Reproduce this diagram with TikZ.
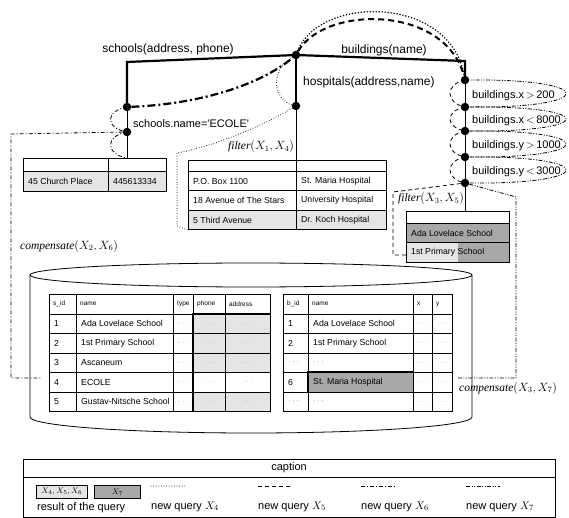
\documentclass[tikz,border=0pt]{standalone}
\usepackage{fontspec}
\setmainfont{Liberation Sans}
\newfontfamily\timesit{Liberation Serif}
\usetikzlibrary{positioning}
\definecolor{lightcell}{gray}{0.9}
\definecolor{darkcell}{gray}{0.66}
\newcommand{\gdots}{\textcolor{gray}{$\cdots$}}
\newcommand{\opname}[1]{{\timesit\itshape #1}}
\begin{document}
\begin{tikzpicture}
[x=1pt, y=-1pt,
 dot/.style={circle, fill=black, inner sep=0pt, minimum size=8.5pt},
 treeedge/.style={line width=2.2pt},
 thinline/.style={line width=0.8pt},
 lbl/.style={font=\fontsize{12}{14}\selectfont, inner sep=1pt},
 sel/.style={font=\fontsize{11}{13}\selectfont, inner sep=1pt, anchor=west},
 op/.style={font=\fontsize{11.5}{13}\selectfont, inner sep=1pt},
 capt/.style={font=\fontsize{11}{13}\selectfont, inner sep=1pt},
 cell/.style={draw, anchor=north west, inner sep=0pt, line width=0.7pt,
   font=\fontsize{7}{8}\selectfont},
 txt/.style={anchor=west, inner xsep=5pt, font=\fontsize{8.7}{10}\selectfont},
 hd/.style={anchor=west, inner xsep=4pt, font=\fontsize{6.5}{7}\selectfont},
 qfour/.style={line width=1pt, line cap=round, dash pattern=on 0pt off 2.6pt},
 qfive/.style={line width=0.8pt, dash pattern=on 4pt off 3pt},
 qsix/.style={line width=0.8pt, dash pattern=on 4pt off 2pt on 1pt off 2pt},
 qseven/.style={line width=0.8pt,
   dash pattern=on 4pt off 1.5pt on 1pt off 1.5pt on 1pt off 1.5pt}]
\useasboundingbox (0,0) rectangle (569,518);

% results of the query
\node[cell, minimum width=85, minimum height=13] (sresa) at (23,158) {};
\node[cell, minimum width=58, minimum height=13] (sresb) at (108,158) {};
\node[cell, fill=lightcell, minimum width=85, minimum height=20] (sres1) at (23,171) {};
\node[txt] at (sres1.west) {45 Church Place};
\node[cell, fill=lightcell, minimum width=58, minimum height=20] (sres2) at (108,171) {};
\node[txt] at (sres2.west) {445613334};

\node[cell, minimum width=108, minimum height=11] (hresa) at (188,160) {};
\node[cell, minimum width=90, minimum height=11] (hresb) at (296,160) {};
\foreach \i/\a/\b/\f in {0/P.O. Box 1100/St. Maria Hospital/white,
    1/18 Avenue of The Stars/University Hospital/white,
    2/5 Third Avenue/Dr. Koch Hospital/lightcell} {
  \node[cell, fill=\f, minimum width=108, minimum height=19.5] (ha\i) at (188,171+19.5*\i) {};
  \node[txt] at (ha\i.west) {\a};
  \node[cell, fill=\f, minimum width=90, minimum height=19.5] (hb\i) at (296,171+19.5*\i) {};
  \node[txt] at (hb\i.west) {\b};
}

\node[cell, minimum width=103, minimum height=12] (bresa) at (406,211) {};
\node[cell, fill=darkcell, minimum width=103, minimum height=19.5] (bres1) at (406,223) {};
\node[txt] at (bres1.west) {Ada Lovelace School};
\node[cell, fill=darkcell, minimum width=103, minimum height=19.5,
  path picture={\fill[lightcell] (path picture bounding box.north west)
    rectangle ([xshift=52pt]path picture bounding box.south west);}] (bres2) at (406,242.5) {};
\node[txt] at (bres2.west) {1st Primary School};

% database
\draw[line width=0.8pt] (251,275) ellipse[x radius=221, y radius=12];
\draw[line width=0.8pt] (30,275) -- (30,417) arc[start angle=180, end angle=0, x radius=221, y radius=16] -- (472,275);

\foreach \x/\w/\t [count=\k] in {49/27/s\_id, 76/97/name, 173/20/type, 193/32/phone, 225/45/address} {
  \node[cell, minimum width=\w, minimum height=19.5] (sh\k) at (\x,294) {};
  \node[hd] at (sh\k.west) {\t};
}
\foreach \i/\id/\nm/\f in {1/1/Ada Lovelace School/lightcell, 2/2/1st Primary School/lightcell,
    3/3/Ascaneum/lightcell, 4/4/ECOLE/white, 5/5/Gustav-Nitsche School/lightcell} {
  \node[cell, minimum width=27, minimum height=19.5] (sid\i) at (49,294+19.5*\i) {};
  \node[txt] at (sid\i.west) {\id};
  \node[cell, minimum width=97, minimum height=19.5] (snm\i) at (76,294+19.5*\i) {};
  \node[txt] at (snm\i.west) {\nm};
  \node[cell, minimum width=20, minimum height=19.5] (sty\i) at (173,294+19.5*\i) {\gdots};
  \node[cell, fill=\f, minimum width=32, minimum height=19.5] (sph\i) at (193,294+19.5*\i) {\gdots};
  \node[cell, fill=\f, minimum width=45, minimum height=19.5] (sad\i) at (225,294+19.5*\i) {\gdots};
}
\draw[line width=1.4pt] (sph1.north west) rectangle (sad5.south east);
\draw[line width=1.4pt] (sph1.north east) -- (sph5.south east);

\foreach \x/\w/\t [count=\k] in {283/25/b\_id, 308/105/name, 413/19/x, 432/20/y} {
  \node[cell, minimum width=\w, minimum height=19.5] (bh\k) at (\x,294) {};
  \node[hd] at (bh\k.west) {\t};
}
\foreach \i/\id/\nm/\f in {1/1/Ada Lovelace School/white, 2/2/1st Primary School/white,
    3/\gdots/\gdots/white, 4/6/St. Maria Hospital/darkcell, 5/\gdots/\gdots/white} {
  \node[cell, minimum width=25, minimum height=19.5] (bid\i) at (283,294+19.5*\i) {};
  \node[txt] at (bid\i.west) {\id};
  \node[cell, fill=\f, minimum width=105, minimum height=19.5] (bnm\i) at (308,294+19.5*\i) {};
  \node[txt] at (bnm\i.west) {\nm};
  \node[cell, minimum width=19, minimum height=19.5] (bx\i) at (413,294+19.5*\i) {\gdots};
  \node[cell, minimum width=20, minimum height=19.5] (by\i) at (432,294+19.5*\i) {\gdots};
}
\draw[line width=1.4pt] (bnm4.north west) rectangle (bnm4.south east);

% query tree
\node[dot] (root) at (296,55) {};
\node[dot] (s1) at (127,107) {};
\node[dot] (s2) at (127,132) {};
\node[dot] (h1) at (296,106) {};
\foreach \n/\y in {1/80,2/107,3/131,4/157,5/183}
  \node[dot] (b\n) at (465,\y) {};
\coordinate (sc) at (127,62);
\coordinate (bc) at (465,61);

\draw[treeedge] (root.center) -- (sc) -- (s1.center);
\draw[treeedge] (root.center) -- (bc) -- (b1.center);
\draw[treeedge] (root.center) -- (h1.center);
\draw[thinline] (s1) -- (s2) -- (s2 |- sresb.north);
\draw[thinline] (h1) -- (h1 |- hresa.north);
\draw[thinline] (b1) -- (b2) -- (b3) -- (b4) -- (b5) -- (b5 |- bresa.north);

\node[lbl] (slbl) at (168,49) {schools(address, phone)};
\node[lbl] (blbl) at (384,50) {buildings(name)};
\node[lbl, anchor=west] (hlbl) at (302,82) {hospitals(address,name)};
\node[sel] (ssel) at (132,124) {schools.name=\textquotesingle ECOLE\textquotesingle};
\foreach \n/\y/\t in {1/96/x$\,>\,$200, 2/121/x$\,<\,$8000, 3/146/y$\,>\,$1000, 4/172/y$\,<\,$3000}
  \node[sel] (bsel\n) at (471,\y) {buildings.\t};

% new query X4
\draw[qfour, line width=1.7pt, dash pattern=on 0pt off 3pt] (root) .. controls (320,-5) and (450,-5) .. (b1);
\draw[qfour] (root) .. controls (268,72) and (275,100) .. (h1);
\coordinate (f4a) at (177,153);
\coordinate (f4b) at (177,226);
\draw[qfour] (h1) .. controls (262,126) and (215,146) .. (f4a) -- (f4b) -- (ha2.south west);
\node[op] (f4) at (261,147) {\opname{filter}$(X_1,X_4)$};

% new query X5
\draw[qfive, line width=2pt, dash pattern=on 6pt off 4pt] (root) .. controls (325,5) and (445,5) .. (b1);
\foreach \a/\b in {1/2,2/3,3/4,4/5}
  \draw[qfive] (b\a.center) .. controls +(-20,4) and +(-20,-4) .. (b\b.center);
\coordinate (f5a) at (393,192);
\coordinate (f5b) at (393,255);
\draw[qfive] (b5) -- (f5a) -- (f5b) -- (f5b -| bres2.west);
\node[op] (f5) at (431,199) {\opname{filter}$(X_3,X_5)$};

% new query X6
\draw[qsix, line width=2.2pt, dash pattern=on 8pt off 3pt on 2pt off 3pt] (s1) .. controls (200,104) and (260,85) .. (root);
\draw[qsix] (s1.center) .. controls +(-22,4) and +(-22,-4) .. (s2.center);
\draw[qsix] (s2.center) .. controls +(-22,4) and +(-22,-4) .. (s2 |- sresb.north);
\coordinate (c6a) at (11,134);
\coordinate (c6b) at (11,378);
\coordinate (c6c) at (41,378);
\draw[qsix] (s2) -- (c6a) -- (c6b) -- (c6c);
\node[op, anchor=west] (c6) at (19,246) {\opname{compensate}$(X_2,X_6)$};

% new query X7
\foreach \a/\b in {1/2,2/3,3/4,4/5}
  \draw[qseven] (b\a.center) .. controls +(135,-2) and +(135,2) .. (b\b.center);
\coordinate (c7a) at (516,197);
\coordinate (c7b) at (516,378);
\coordinate (c7c) at (457,378);
\draw[qseven] (b5) -- (c7a) -- (c7b) -- (c7c);
\node[op, anchor=west] (c7) at (458,388) {\opname{compensate}$(X_3,X_7)$};

% caption
\node[draw, line width=0.8pt, anchor=north west, minimum width=532, minimum height=58] (cap) at (23,459) {};
\draw[line width=0.8pt] ([yshift=-18pt]cap.north west) -- ([yshift=-18pt]cap.north east);
\node[capt] (captxt) at (289,468) {caption};
\node[cell, fill=lightcell, minimum width=51, minimum height=13, font=\fontsize{8}{9}\selectfont] (lg1) at (36,485) {$X_4,X_5,X_6$};
\node[cell, fill=darkcell, minimum width=46, minimum height=13, font=\fontsize{8}{9}\selectfont] (lg2) at (94,485) {$X_7$};
\node[capt, below=2.5pt of lg1.south west, anchor=north west] (lg0) {result of the query};
\foreach \s/\x/\n in {qfour/151/4, qfive/258/5, qsix/361/6, qseven/466/7} {
  \coordinate (l\n a) at (\x,486);
  \coordinate (l\n b) at (\x+34,486);
  \draw[\s] (l\n a) -- (l\n b);
  \node[capt, below right=14.5pt and -1pt of l\n a] (lt\n) {new query $X_\n$};
}
\end{tikzpicture}
\end{document}
